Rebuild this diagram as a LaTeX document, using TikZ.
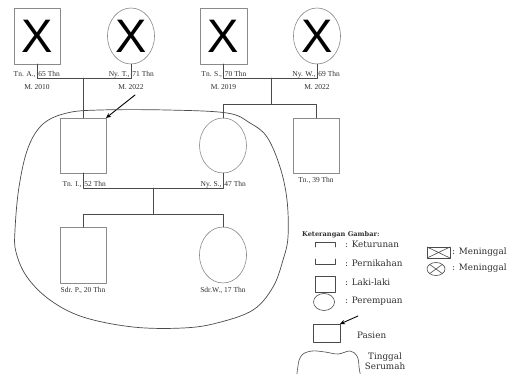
\documentclass[tikz,border=0pt]{standalone}
\usepackage{fontspec}
\setmainfont{Liberation Serif}
\newfontfamily\bigxfont{Liberation Sans}
\newfontfamily\legendfont{DejaVu Serif}
\usetikzlibrary{arrows.meta,positioning,shapes.geometric}
\definecolor{shapegray}{HTML}{8A8A8A}
\definecolor{linegray}{HTML}{4A4A4A}
\definecolor{ink}{HTML}{2E2E2E}
\tikzset{
    every picture/.style={line cap=round,line join=round},
    malebox/.style={draw=shapegray,line width=0.6pt,minimum width=46pt,
      minimum height=56pt,inner sep=0pt,outer sep=0pt},
    femaleoval/.style={ellipse,draw=shapegray,line width=0.6pt,minimum width=47pt,
      minimum height=56pt,inner sep=0pt,outer sep=0pt},
    deadmark/.style={font=\bigxfont\fontsize{47}{47}\selectfont,inner sep=0pt,text=black},
    namelabel/.style={font=\fontsize{7.5}{8}\selectfont,text=ink,inner sep=0.6pt},
    leftname/.style={namelabel,anchor=base east,yshift=1.8pt,xshift=-0.6pt},
    rightname/.style={namelabel,anchor=base west,yshift=1.8pt,xshift=0.6pt},
    famline/.style={draw=linegray,line width=0.6pt},
    housecurve/.style={draw=linegray,line width=0.7pt},
    patientarrow/.style={-{Stealth[length=5pt,width=4.5pt]},draw=black,line width=0.9pt},
    legendtext/.style={font=\legendfont\fontsize{8.8}{10.5}\selectfont,text=ink,
      inner sep=0pt,anchor=west},
    legendsym/.style={draw=linegray,line width=0.6pt,inner sep=0pt,outer sep=0pt}
}

\begin{document}
\begin{tikzpicture}[x=1pt,y=-1pt]
  \useasboundingbox (0,0) rectangle (514,374);
  % generation I
  \node[malebox] (tnA) at (37,36) {};
  \node[femaleoval] (nyT) at (131,36) {};
  \node[malebox,minimum width=47pt] (tnS) at (223.5,36) {};
  \node[femaleoval] (nyW) at (317,36) {};
  \foreach \p in {tnA,nyT,tnS,nyW}
    \node[deadmark] (x\p) at (\p) {X};
  \coordinate (m1) at (0,78);
  \draw[famline] (tnA.south) -- (tnA.south |- m1) -- (nyT.south |- m1) -- (nyT.south);
  \draw[famline] (tnS.south) -- (tnS.south |- m1) -- (nyW.south |- m1) -- (nyW.south);
  \node[leftname] (nA) at (tnA.south |- m1) {Tn. A.,};
  \node[rightname] (aA) at (tnA.south |- m1) {65 Thn};
  \node[namelabel,below=5.5pt] (dA) at (tnA.south |- m1) {M. 2010};
  \node[leftname] (nT) at (nyT.south |- m1) {Ny. T.,};
  \node[rightname] (aT) at (nyT.south |- m1) {71 Thn};
  \node[namelabel,below=5.5pt] (dT) at (nyT.south |- m1) {M. 2022};
  \node[leftname] (nS) at (tnS.south |- m1) {Tn. S.,};
  \node[rightname] (aS) at (tnS.south |- m1) {70 Thn};
  \node[namelabel,below=5.5pt] (dS) at (tnS.south |- m1) {M. 2019};
  \node[leftname] (nW) at (nyW.south |- m1) {Ny. W.,};
  \node[rightname] (aW) at (nyW.south |- m1) {69 Thn};
  \node[namelabel,below=5.5pt] (dW) at (nyW.south |- m1) {M. 2022};

  % generation II
  \node[malebox,minimum height=55pt] (tnI) at (83,145.5) {};
  \node[femaleoval,minimum height=55pt] (nyS) at (223,145.5) {};
  \node[malebox,minimum height=55pt] (tn39) at (316,145.5) {};
  \draw[famline] (tnI.north |- m1) -- (tnI.north);
  \coordinate (d1) at (271,78);
  \coordinate (s1) at (271,104);
  \draw[famline] (d1) -- (s1);
  \draw[famline] (nyS.north) -- (nyS.north |- s1) -- (tn39.north |- s1) -- (tn39.north);
  \coordinate (m2) at (0,188);
  \draw[famline] (tnI.south) -- (tnI.south |- m2) -- (nyS.south |- m2) -- (nyS.south);
  \node[leftname] (nI) at (tnI.south |- m2) {Tn. I.,};
  \node[rightname] (aI) at (tnI.south |- m2) {52 Thn};
  \node[leftname] (nSy) at (nyS.south |- m2) {Ny. S.,};
  \node[rightname] (aSy) at (nyS.south |- m2) {47 Thn};
  \node[namelabel,below=3pt of tn39] (n39) {Tn., 39 Thn};
  \coordinate (ptail) at (135,95);
  \draw[patientarrow] (ptail) -- (tnI.north east);

  % generation III
  \node[malebox] (sdrP) at (83,255) {};
  \node[femaleoval] (sdrW) at (223,255) {};
  \coordinate (d2) at (153,188);
  \coordinate (s2) at (153,214);
  \draw[famline] (d2) -- (s2);
  \draw[famline] (sdrP.north) -- (sdrP.north |- s2) -- (sdrW.north |- s2) -- (sdrW.north);
  \node[namelabel,below=3pt of sdrP] (nP) {Sdr. P., 20 Thn};
  \node[namelabel,below=3pt of sdrW] (nWd) {Sdr.W., 17 Thn};

  % household
  \draw[housecurve] plot[smooth cycle,tension=0.6] coordinates {
    (15,230) (19,187) (28,148) (43,124) (67,113) (100,110) (167,110) (227,113)
    (250,123) (267,137) (280,167) (287,200) (288,237) (283,260) (273,287)
    (253,310) (217,323) (183,328) (133,327) (83,317) (50,300) (27,277) (16,252)};

  % legend
  \node[legendtext,font=\legendfont\bfseries\fontsize{6.6}{8}\selectfont] (lgTitle)
    at (302,235) {Keterangan Gambar:};
  \draw[legendsym] (315,247) -- (315,242) -- (335,242) -- (335,247);
  \node[legendtext] (lgKet) at (345,244) {: Keturunan};
  \draw[legendsym] (315,259) -- (315,264) -- (335,264) -- (335,259);
  \node[legendtext] (lgNik) at (345,263) {: Pernikahan};
  \node[legendsym,minimum width=20pt,minimum height=16pt] (lgMale) at (325,284) {};
  \node[legendtext] (lgLaki) at (345,282) {: Laki-laki};
  \node[legendsym,ellipse,minimum width=21pt,minimum height=17pt] (lgFem) at (324,302) {};
  \node[legendtext] (lgPer) at (345,301) {: Perempuan};
  \node[legendsym,minimum width=27pt,minimum height=18pt] (lgPat) at (326.5,333) {};
  \coordinate (lgTail) at (358,316);
  \draw[patientarrow] (lgTail) -- (lgPat.north east);
  \node[legendtext] (lgPas) at (357,335) {Pasien};
  \draw[legendsym] plot[smooth cycle,tension=0.6] coordinates {
    (298,366) (302,355) (312,351) (325,352) (338,354) (350,351) (357,356)
    (359,367) (358,382) (330,388) (300,382)};
  \node[legendtext,anchor=center,align=center] (lgHouse) at (385,361)
    {Tinggal\\Serumah};
  \node[legendsym,minimum width=23pt,minimum height=11pt] (lgDeadM) at (438.5,252.5) {};
  \draw[legendsym] (lgDeadM.north west) -- (lgDeadM.south east)
    (lgDeadM.south west) -- (lgDeadM.north east);
  \node[legendtext] (lgMen1) at (452,252) {: Meninggal};
  \node[legendsym,ellipse,minimum width=18pt,minimum height=13pt] (lgDeadF) at (436,269) {};
  \draw[legendsym] (lgDeadF.north west) -- (lgDeadF.south east)
    (lgDeadF.south west) -- (lgDeadF.north east);
  \node[legendtext] (lgMen2) at (452,268) {: Meninggal};
\end{tikzpicture}
\end{document}
